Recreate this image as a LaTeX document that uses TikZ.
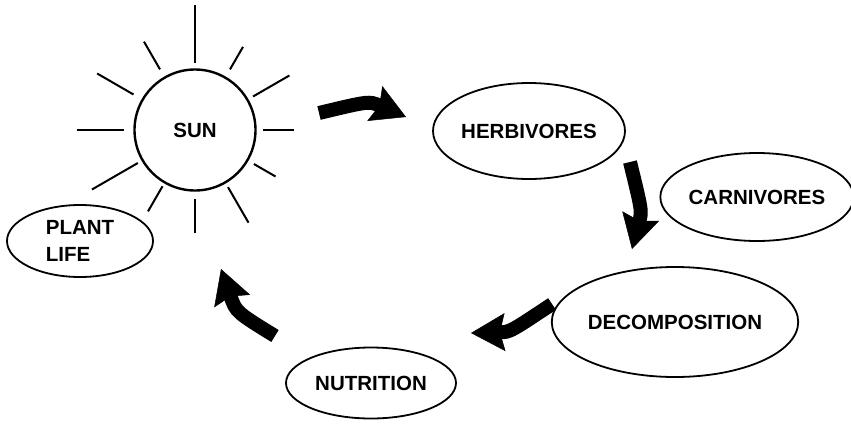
\documentclass[tikz,border=0pt]{standalone}
\usepackage{fontspec}
\setmainfont{Liberation Sans}
\usetikzlibrary{shapes.geometric,arrows.meta,calc}
\begin{document}
\begin{tikzpicture}[x=1pt,y=-1pt,
  blob/.style={ellipse,draw,line width=1.8pt,inner sep=0pt,font=\bfseries\fontsize{20.5}{27}\selectfont},
  ray/.style={line width=2pt},
  bigarrow/.style={line width=14pt,-{Stealth[length=34pt,width=38pt,inset=5pt,line width=0.5pt]}}]
\useasboundingbox (0,0) rectangle (851,426);
% sun and its rays
\node[circle,draw,line width=2.4pt,minimum size=121pt,inner sep=0pt,font=\bfseries\fontsize{20.5}{24}\selectfont] (sun) at (195,130) {SUN};
\foreach \a/\r/\R in {-90/67/125,-60/70/96,-30/67/109,0/68/99,30/68/93,60/66/107,
                      90/69/103,120/65/94,150/66/119,180/71/118,-150/71/113,-120/70/102}
  \draw[ray] ($(sun.center)+(\a:\r)$) -- ($(sun.center)+(\a:\R)$);
% the cycle
\node[blob,minimum width=192pt,minimum height=96pt] (herb) at (529,131) {HERBIVORES};
\node[blob,minimum width=187pt,minimum height=88pt] (carn) at (757,197) {CARNIVORES};
\node[blob,minimum width=214pt,minimum height=110pt] (decomp) at (675,322) {DECOMPOSITION};
\node[blob,minimum width=170pt,minimum height=71pt] (nutri) at (371,383) {NUTRITION};
\node[blob,minimum width=146pt,minimum height=72pt,align=left] (plant) at (80,241) {PLANT\\LIFE};
% fat arrows
\coordinate (sunout) at (319,113);   \coordinate (herbin) at (406,117);
\coordinate (herbout) at (630,162);  \coordinate (decompin) at (632,249);
\coordinate (decompout) at (552,304); \coordinate (nutriin) at (471,333);
\coordinate (nutriout) at (275,336); \coordinate (plantin) at (221,269);
\draw[bigarrow] (sunout) .. controls (369,101) .. (herbin);
\draw[bigarrow] (herbout) .. controls (642,211) .. (decompin);
\draw[bigarrow] (decompout) .. controls (510,332) .. (nutriin);
\draw[bigarrow] (nutriout) .. controls (236,312) .. (plantin);
\end{tikzpicture}
\end{document}
